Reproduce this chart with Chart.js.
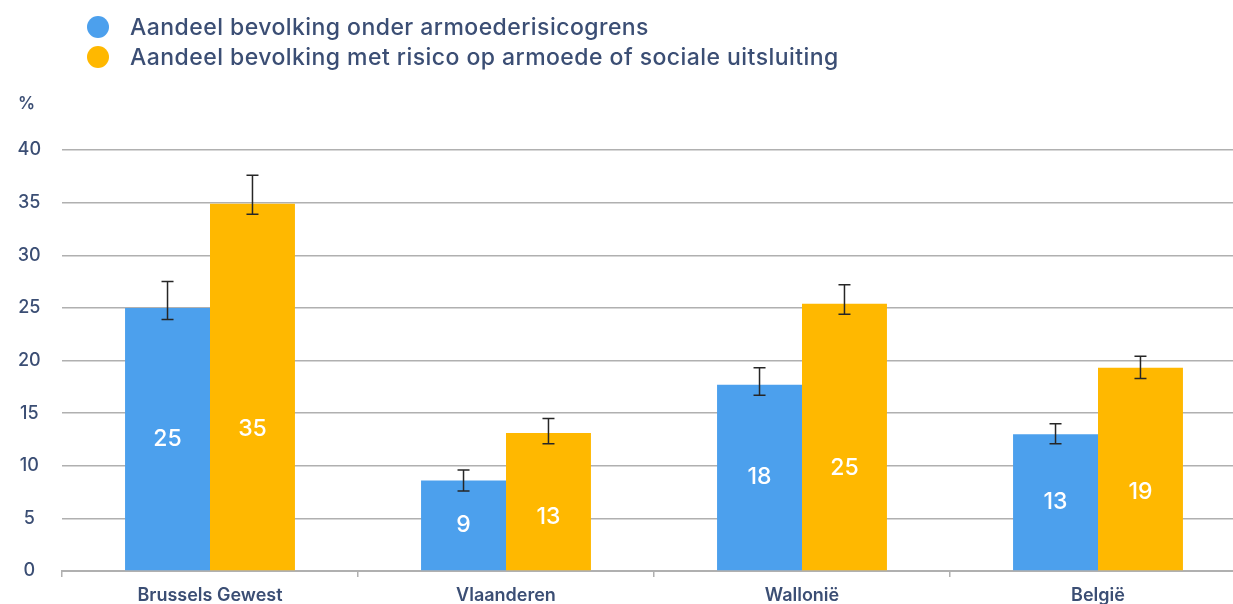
<!DOCTYPE html>
<html>
<head>
<meta charset="utf-8">
<script src="https://cdn.jsdelivr.net/npm/chart.js@4/dist/chart.umd.min.js"></script>
<style>
    html, body { margin: 0; padding: 0; background: #fff; overflow: hidden; }
    #wrap { position: relative; width: 1250px; height: 604px; }
    #legend { position: absolute; left: 87px; top: 12px; font-family: Inter, sans-serif; font-size: 23px; font-weight: 500; letter-spacing: 0.45px; color: #3b4e74; }
    .item { display: flex; align-items: center; height: 30px; }
    .dot { width: 22px; height: 22px; border-radius: 50%; margin-right: 21px; }
    #unit { position: absolute; left: 18px; top: 93px; font-family: Inter, sans-serif; font-size: 17px; font-weight: 600; color: #3b4e74; }
</style>
</head>
<body>
<div id="wrap">
    <canvas id="poverty-chart" width="1250" height="604"></canvas>
    <div id="legend"></div>
    <div id="unit">%</div>
</div>
<script>
    var regions = ["Brussels Gewest", "Vlaanderen", "Wallonië", "België"];
    var seriesNames = ["Aandeel bevolking onder armoederisicogrens", "Aandeel bevolking met risico op armoede of sociale uitsluiting"];
    var seriesColors = ['#4ca0ed', '#ffb800'];

    var belowThreshold = [25.0, 8.6, 17.7, 13.0];
    var belowThresholdLow = [23.9, 7.6, 16.7, 12.1];
    var belowThresholdHigh = [27.5, 9.6, 19.3, 14.0];

    var atRisk = [34.9, 13.1, 25.4, 19.3];
    var atRiskLow = [33.9, 12.1, 24.4, 18.3];
    var atRiskHigh = [37.6, 14.5, 27.2, 20.4];

    var yTicks = [0, 5, 10, 15, 20, 25, 30, 35, 40];

    var textColor = '#3b4e74';
    var gridColor = '#b0b0b0';

    // legend as html
    var legend = document.getElementById('legend');
    seriesNames.forEach(function (name, i) {
        var row = document.createElement('div');
        row.className = 'item';
        var dot = document.createElement('span');
        dot.className = 'dot';
        dot.style.background = seriesColors[i];
        var txt = document.createElement('span');
        txt.textContent = name;
        row.appendChild(dot);
        row.appendChild(txt);
        legend.appendChild(row);
    });

    /* error bars + labels inside the bars */
    var barExtras = {
        id: 'barExtras',
        afterDatasetsDraw: function (chart) {
            var ctx = chart.ctx;
            var yScale = chart.scales.y;
            chart.data.datasets.forEach(function (ds, i) {
                var meta = chart.getDatasetMeta(i);
                meta.data.forEach(function (bar, j) {
                    // error bar
                    var top = yScale.getPixelForValue(ds.high[j]);
                    var bottom = yScale.getPixelForValue(ds.low[j]);
                    ctx.save();
                    ctx.strokeStyle = '#262626';
                    ctx.lineWidth = 1.5;
                    ctx.beginPath();
                    ctx.moveTo(bar.x, top);
                    ctx.lineTo(bar.x, bottom);
                    ctx.moveTo(bar.x - 6, top);
                    ctx.lineTo(bar.x + 6, top);
                    ctx.moveTo(bar.x - 6, bottom);
                    ctx.lineTo(bar.x + 6, bottom);
                    ctx.stroke();

                    // value label
                    var frac = i === 0 ? 0.5 : 0.385;
                    var ly = bar.base - frac * (bar.base - bar.y);
                    ctx.fillStyle = '#ffffff';
                    ctx.font = '500 23px Inter, sans-serif';
                    ctx.textAlign = 'center';
                    ctx.textBaseline = 'middle';
                    ctx.fillText(Math.round(ds.data[j]), bar.x, ly);
                    ctx.restore();
                });
            });
        }
    };

    new Chart(document.getElementById('poverty-chart'), {
        type: 'bar',
        data: {
            labels: regions,
            datasets: [{
                label: seriesNames[0],
                data: belowThreshold,
                low: belowThresholdLow,
                high: belowThresholdHigh,
                backgroundColor: seriesColors[0],
                categoryPercentage: 0.574,
                barPercentage: 1.0
            },
            {
                label: seriesNames[1],
                data: atRisk,
                low: atRiskLow,
                high: atRiskHigh,
                backgroundColor: seriesColors[1],
                categoryPercentage: 0.574,
                barPercentage: 1.0
            }]
        },
        options: {
            responsive: false,
            animation: false,
            layout: { padding: { top: 150, right: 4, left: 0, bottom: 0 } },
            plugins: {
                legend: { display: false },
                tooltip: { enabled: false }
            },
            scales: {
                x: {
                    grid: { drawOnChartArea: false, drawTicks: true, tickLength: 6, color: gridColor, lineWidth: 1.5 },
                    border: { color: gridColor, width: 2 },
                    ticks: { color: textColor, padding: 8, font: { family: 'Inter', size: 18, weight: '600' } },
                    afterFit: function (scale) { scale.height = 33; }
                },
                y: {
                    min: 0,
                    max: 40,
                    afterBuildTicks: function (scale) {
                        scale.ticks = yTicks.map(function (v) { return { value: v }; });
                    },
                    grid: { color: gridColor, lineWidth: 1.5, drawTicks: false },
                    border: { display: false },
                    ticks: { color: textColor, padding: 21, crossAlign: 'center', font: { family: 'Inter', size: 18, weight: '500' } },
                    afterFit: function (scale) { scale.width = 62; }
                }
            }
        },
        plugins: [barExtras]
    });
</script>
</body>
</html>
